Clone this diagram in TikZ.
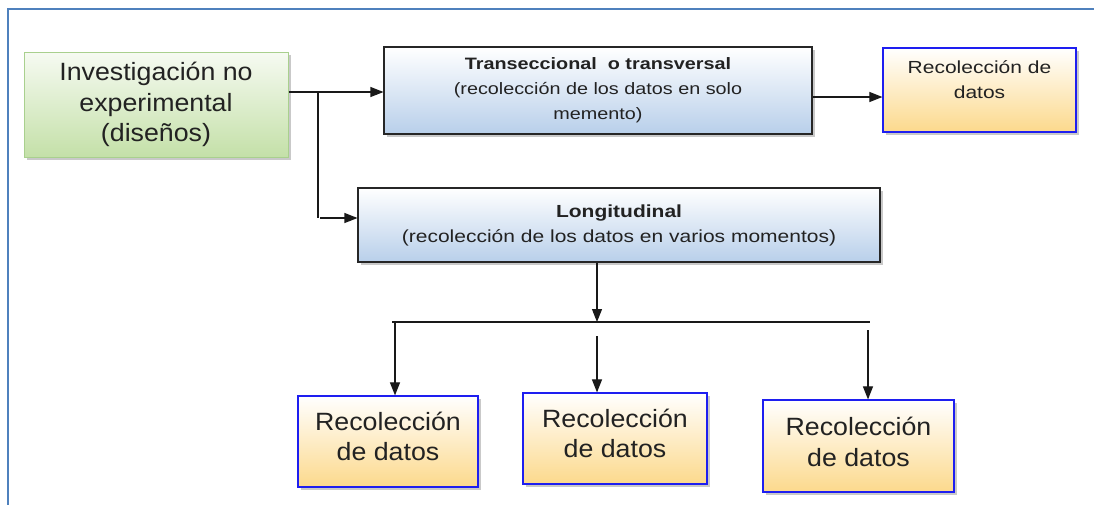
\documentclass[tikz,border=0pt]{standalone}
\usepackage{fontspec}
\setmainfont{Liberation Sans}
\newfontfamily\bigf[FakeStretch=1.07]{Liberation Sans}
\newfontfamily\smf[FakeStretch=1.2]{Liberation Sans}
\usetikzlibrary{shadows,arrows.meta,calc}
\definecolor{frameblue}{HTML}{4F81BD}
\definecolor{gbord}{HTML}{A9D08E}
\definecolor{gfill}{HTML}{C4E0A8}
\definecolor{bfill}{HTML}{B8CFEA}
\definecolor{ofill}{HTML}{FCD98C}
\definecolor{rbord}{HTML}{1E1EF0}
\definecolor{txt}{HTML}{222222}
\tikzset{
  box/.style={rectangle, inner sep=0pt, align=center, text=txt,
    drop shadow={shadow xshift=3pt, shadow yshift=-3pt, opacity=0.35, fill=black!60}},
  greenbox/.style={box, draw=gbord, line width=1pt, top color=white!85!gfill, bottom color=gfill},
  bluebox/.style={box, draw=black!85, line width=1.1pt, top color=white, bottom color=bfill},
  orangebox/.style={box, draw=rbord, line width=1.2pt, top color=white, bottom color=ofill},
  bigtext/.style={font=\bigf\fontsize{25}{30.5}\selectfont},
  smtext/.style={font=\smf\fontsize{#1}{25}\selectfont},
  conn/.style={draw=black!90, line width=1.1pt},
  arr/.style={conn, arrows={-Stealth[length=13pt,width=10pt,inset=0pt]}}
}
\begin{document}
\begin{tikzpicture}[x=1pt,y=-1pt]
\useasboundingbox (0,0) rectangle (1094,504);
\fill[white] (0,0) rectangle (1094,504);
\draw[frameblue, line width=1.6pt] (8,506) -- (8,9) -- (1096,9);

\node[greenbox, bigtext, minimum width=264pt, minimum height=105pt] (green) at (156,104.5)
  {Investigación no\\experimental\\(diseños)};
\node[bluebox, smtext=16.5, minimum width=428pt, minimum height=87pt] (trans) at (598,90.5)
  {\textbf{Transeccional~ o transversal}\\(recolección de los datos en solo\\memento)};
\node[orangebox, minimum width=193pt, minimum height=84pt] (rectop) at (979.5,90) {};
\node[align=center, text=txt, inner sep=0pt, smtext=17.5] (rectoptxt) at (979.5,80)
  {Recolección de\\datos};
\node[bluebox, smtext=17.5, minimum width=522pt, minimum height=74pt] (long) at (619,225)
  {\textbf{Longitudinal}\\(recolección de los datos en varios momentos)};
\node[orangebox, minimum width=180pt, minimum height=91pt] (b1) at (388,441.5) {};
\node[orangebox, minimum width=184pt, minimum height=91pt] (b2) at (615,438.5) {};
\node[orangebox, minimum width=191pt, minimum height=92pt] (b3) at (858.5,446) {};
\node[bigtext, align=center, text=txt, inner sep=0pt] (t1) at (388,436.5) {Recolección\\de datos};
\node[bigtext, align=center, text=txt, inner sep=0pt] (t2) at (615,433.5) {Recolección\\de datos};
\node[bigtext, align=center, text=txt, inner sep=0pt] (t3) at (858.5,442) {Recolección\\de datos};

\coordinate (j1) at (318,92);
\coordinate (j2) at (320,218);
\coordinate (j3) at (848,97);
\coordinate (hb) at (597,322);
\coordinate (hl) at (392,322);
\coordinate (hr) at (870,322);
\coordinate (d1) at (395,322);
\coordinate (d2) at (597,336);
\coordinate (d3) at (868,330);

\draw[arr] (j1 -| green.east) -- (j1 -| trans.west);
\draw[conn] (j1) -- (j1 |- j2);
\draw[arr] (j2) -- (j2 -| long.west);
\draw[arr] (j3 -| trans.east) -- (j3 -| rectop.west);
\draw[arr] (hb |- long.south) -- (hb);
\draw[conn] (hl) -- (hr);
\draw[arr] (d1) -- (d1 |- b1.north);
\draw[arr] (d2) -- (d2 |- b2.north);
\draw[arr] (d3) -- (d3 |- b3.north);
\end{tikzpicture}
\end{document}
